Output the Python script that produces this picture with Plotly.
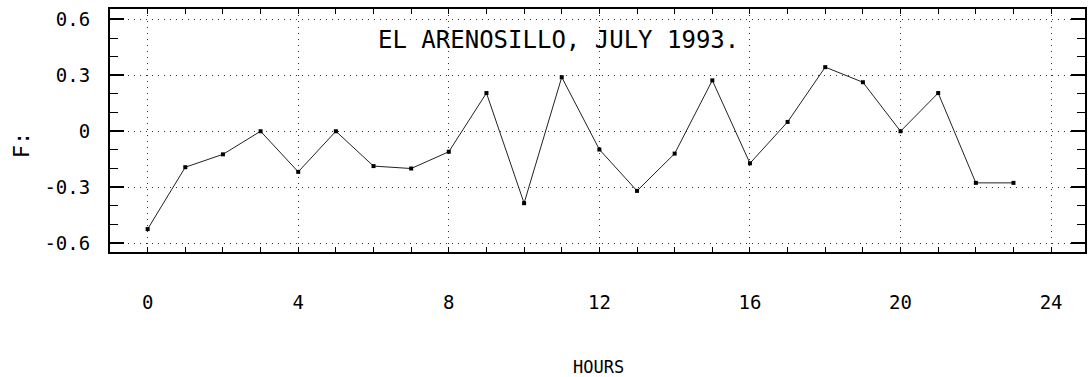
import plotly.graph_objects as go

# Hourly values, El Arenosillo, July 1993
hours = list(range(24))
values = [-0.525, -0.193, -0.124, 0.0, -0.218, 0.0, -0.187, -0.200,
          -0.110, 0.205, -0.386, 0.290, -0.098, -0.320, -0.120, 0.273,
          -0.172, 0.050, 0.344, 0.263, 0.0, 0.205, -0.277, -0.277]

x_ticks = [0, 4, 8, 12, 16, 20, 24]
x_tick_labels = ["0", "4", "8", "12", "16", "20", "24"]
y_ticks = [0.6, 0.3, 0.0, -0.3, -0.6]
y_tick_labels = ["0.6", "0.3", "0", "-0.3", "-0.6"]

title_text = "EL ARENOSILLO, JULY 1993."
x_title = "HOURS"
y_title = "F:"

mono = "DejaVu Sans Mono, Liberation Mono, monospace"

fig = go.Figure()
fig.add_trace(go.Scatter(
    x=hours, y=values, mode="lines+markers",
    line=dict(color="#222222", width=1),
    marker=dict(symbol="square", size=4, color="#000000"),
    showlegend=False,
))

fig.update_xaxes(
    range=[-1.0, 24.9],
    tickmode="array", tickvals=x_ticks, ticktext=x_tick_labels,
    ticks="inside", ticklen=5, tickwidth=1, tickcolor="#000",
    minor=dict(dtick=1, ticks="inside", ticklen=5, tickwidth=1,
               tickcolor="#000", showgrid=False),
    showgrid=True, gridcolor="#333", griddash="1px,5px", gridwidth=1,
    showline=True, linecolor="#000", linewidth=2, mirror="ticks",
    zeroline=False,
    tickfont=dict(family=mono, size=19, color="#000"),
    ticklabelstandoff=32,
)
fig.update_yaxes(
    range=[-0.648, 0.656],
    tickmode="array", tickvals=y_ticks, ticktext=y_tick_labels,
    ticks="inside", ticklen=14, tickwidth=2, tickcolor="#000",
    minor=dict(dtick=0.1, tick0=0, ticks="inside", ticklen=8, tickwidth=1,
               tickcolor="#000", showgrid=False),
    showgrid=True, gridcolor="#333", griddash="1px,5px", gridwidth=1,
    showline=True, linecolor="#000", linewidth=2, mirror="ticks",
    zeroline=False,
    tickfont=dict(family=mono, size=19, color="#000"),
    ticklabelstandoff=14,
)

fig.add_annotation(
    text=title_text, xref="paper", yref="paper", x=0.46, y=0.872,
    showarrow=False, font=dict(family=mono, size=24, color="#000"),
    xanchor="center", yanchor="middle",
)
fig.add_annotation(
    text=x_title, xref="paper", yref="paper", x=0.5015, y=-0.473,
    showarrow=False, font=dict(family=mono, size=17, color="#000"),
    xanchor="center", yanchor="middle",
)
fig.add_annotation(
    text=y_title, xref="paper", yref="paper", x=-0.091, y=0.44,
    showarrow=False, textangle=-90,
    font=dict(family=mono, size=22, color="#000"),
    xanchor="center", yanchor="middle",
)

fig.update_layout(
    width=1088, height=377,
    margin=dict(l=110, r=1, t=9, b=125),
    paper_bgcolor="white", plot_bgcolor="white",
)

fig.write_html("out.html")
